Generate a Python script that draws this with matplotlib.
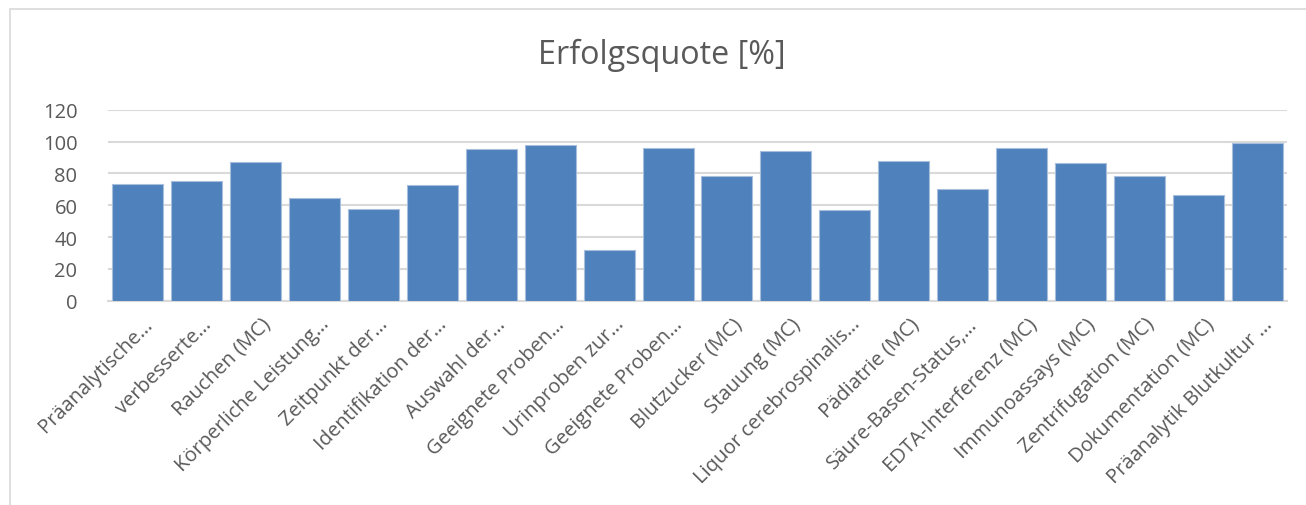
import matplotlib.pyplot as plt
from matplotlib.patches import Rectangle
from matplotlib.transforms import ScaledTranslation

categories = [
    "Präanalytische…",
    "verbesserte…",
    "Rauchen (MC)",
    "Körperliche Leistung…",
    "Zeitpunkt der…",
    "Identifikation der…",
    "Auswahl der…",
    "Geeignete Proben…",
    "Urinproben zur…",
    "Geeignete Proben…",
    "Blutzucker (MC)",
    "Stauung (MC)",
    "Liquor cerebrospinalis…",
    "Pädiatrie (MC)",
    "Säure-Basen-Status,…",
    "EDTA-Interferenz (MC)",
    "Immunoassays (MC)",
    "Zentrifugation (MC)",
    "Dokumentation (MC)",
    "Präanalytik Blutkultur …",
]
success_rate = [73.3, 75.4, 87.1, 64.5, 57.6, 72.7, 95.3, 98.0, 31.7, 96.1,
                78.3, 94.2, 57.0, 87.8, 70.2, 96.1, 86.7, 78.1, 66.2, 99.2]
y_ticks = [0, 20, 40, 60, 80, 100, 120]

text_color = "#595959"
grid_color = "#d9d9d9"
bar_color = "#4f81bd"

plt.rcParams["font.family"] = ["Open Sans", "DejaVu Sans"]

fig = plt.figure(figsize=(13.06, 5.06), dpi=100)
ax = fig.add_axes([108 / 1306, 1 - 301.7 / 506, (1287 - 108) / 1306, 191 / 506])

# chart border (light grey frame)
fig.patches.append(Rectangle((10 / 1306, -0.1), 1.2, 1 - 10 / 506 + 0.1,
                             transform=fig.transFigure, fill=False,
                             edgecolor="#d9d9d9", linewidth=1.2))

x = range(len(categories))
ax.bar(x, success_rate, width=0.865, color=bar_color,
       edgecolor="#a7bedd", linewidth=0.8, zorder=3)

ax.set_xlim(-0.5, len(categories) - 0.5)
ax.set_ylim(0, 120)
ax.set_yticks(y_ticks)
ax.yaxis.grid(True, color=grid_color, linewidth=1.5, zorder=0)
ax.set_axisbelow(True)

for side in ["top", "right", "left"]:
    ax.spines[side].set_visible(False)
ax.spines["bottom"].set_color(grid_color)
ax.spines["bottom"].set_linewidth(1.5)

ax.tick_params(axis="both", length=0, colors=text_color, labelsize=14.5)
ax.tick_params(axis="y", pad=22)
ax.set_xticks(list(x))
ax.set_xticklabels(categories, rotation=45, ha="right",
                   rotation_mode="anchor", va="center", color=text_color)
ax.tick_params(axis="x", pad=14.5)
# Excel puts the end of the rotated label slightly right of the bar centre
shift = ScaledTranslation(12 / 100, 0, fig.dpi_scale_trans)
for lbl in ax.get_xticklabels():
    lbl.set_transform(lbl.get_transform() + shift)

fig.text(0.507, 1 - 55 / 506, "Erfolgsquote [%]", ha="center", va="center",
         fontsize=23.3, color=text_color)

fig.savefig("out.png", dpi=100)
